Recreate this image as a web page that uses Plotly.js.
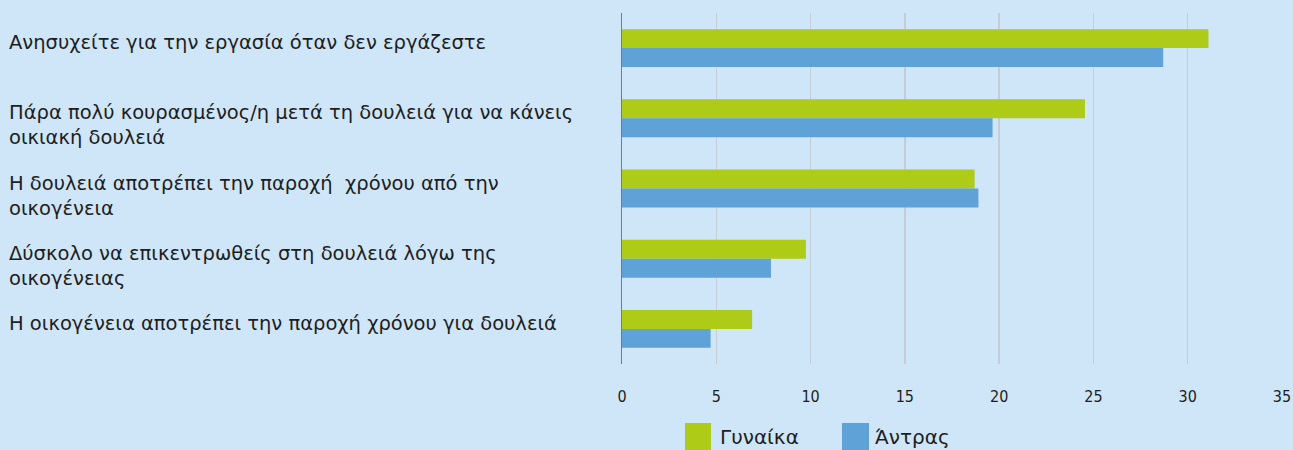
<!DOCTYPE html>
<html>
<head>
<meta charset="utf-8">
<script src="https://cdn.plot.ly/plotly-3.0.1.min.js"></script>
<style>html,body{margin:0;padding:0;background:#cfe5f8;}#chart{width:1293px;height:450px;}</style>
</head>
<body>
<div id="chart"></div>
<script>
const categories = [
  "Ανησυχείτε για την εργασία όταν δεν εργάζεστε",
  "Πάρα πολύ κουρασμένος/η μετά τη δουλειά για να κάνεις<br>οικιακή δουλειά",
  "Η δουλειά αποτρέπει την παροχή  χρόνου από την<br>οικογένεια",
  "Δύσκολο να επικεντρωθείς στη δουλειά λόγω της<br>οικογένειας",
  "Η οικογένεια αποτρέπει την παροχή χρόνου για δουλειά"
];
const seriesNames = ["Γυναίκα", "Άντρας"];
const women = [31.1, 24.55, 18.7, 9.75, 6.9];
const men = [28.7, 19.65, 18.9, 7.9, 4.7];
const xTicks = [0, 5, 10, 15, 20, 25, 30, 35];

const colors = ["#adcb17", "#5fa2d7"];
const bg = "#cfe5f8";
const labelFont = "'DejaVu Sans', 'Noto Sans', sans-serif";

const traces = [women, men].map((vals, i) => ({
  type: "bar",
  orientation: "h",
  y: categories,
  x: vals,
  name: seriesNames[i],
  marker: {color: colors[i]},
  showlegend: false,
  hoverinfo: "x"
}));

const annotations = categories.map(c => ({
  xref: "paper", yref: "y",
  x: (7 - 622) / 660, y: c,
  xanchor: "left", yanchor: "top", align: "left",
  yshift: 19,
  text: c, showarrow: false,
  font: {family: labelFont, size: 19.5, color: "#1e1e1e"}
}));

const legX = [[685, 711, 718], [842, 869, 873]];
const shapes = [];
seriesNames.forEach((n, i) => {
  shapes.push({
    type: "rect", xref: "paper", yref: "paper",
    x0: (legX[i][0] - 622) / 660, x1: (legX[i][1] - 622) / 660,
    y0: (364 - 452) / 351, y1: (364 - 423) / 351,
    fillcolor: colors[i], line: {width: 0}
  });
  annotations.push({
    xref: "paper", yref: "paper",
    x: (legX[i][2] - 622) / 660, y: (364 - 437) / 351,
    xanchor: "left", yanchor: "middle",
    text: n, showarrow: false,
    font: {family: labelFont, size: 20, color: "#1e1e1e"}
  });
});

const layout = {
  width: 1293, height: 450,
  paper_bgcolor: bg, plot_bgcolor: bg,
  margin: {l: 622, r: 11, t: 13, b: 86},
  barmode: "group", bargap: 0.46, bargroupgap: 0,
  xaxis: {
    range: [0, 35], tickvals: xTicks, ticktext: xTicks.map(String),
    showgrid: true, gridcolor: "#c4cdd6", gridwidth: 1.5,
    zeroline: false, showline: false, ticks: "",
    ticklabelstandoff: 21,
    tickfont: {family: "'Liberation Sans Narrow', 'DejaVu Sans Condensed', sans-serif", size: 16, color: "#1e1e1e"},
    fixedrange: true
  },
  yaxis: {
    autorange: "reversed", showticklabels: false, ticks: "",
    showgrid: false, zeroline: false,
    showline: true, linecolor: "#7a7a7a", linewidth: 1.5,
    fixedrange: true
  },
  annotations: annotations,
  shapes: shapes,
  showlegend: false
};

Plotly.newPlot("chart", traces, layout, {displayModeBar: false, staticPlot: true});
</script>
</body>
</html>
